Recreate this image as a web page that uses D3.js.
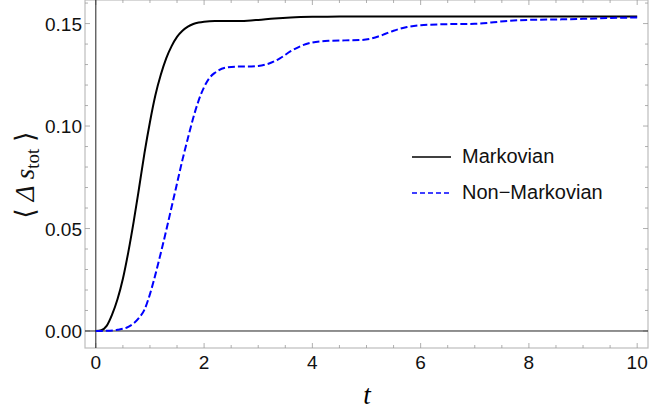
<!DOCTYPE html>
<html>
<head>
<meta charset="utf-8">
<script src="https://cdn.jsdelivr.net/npm/d3@7"></script>
<style>
  body { margin: 0; background: white; }
  text { font-family: "Liberation Sans", Arial, sans-serif; }
</style>
</head>
<body>
<svg id="chart" width="650" height="410"></svg>
<script>
// values
const tMark = [0, 0.1, 0.2, 0.3, 0.4, 0.5, 0.6, 0.7, 0.8, 0.9, 1.0, 1.1, 1.2, 1.3, 1.4, 1.5, 1.6, 1.7, 1.8, 1.9, 2.0, 2.2, 2.4, 2.6, 2.8, 3.0, 3.3, 3.6, 4.0, 4.5, 5, 6, 7, 8, 9, 10];
const markovian = [0, 0.0004, 0.0025, 0.008, 0.0155, 0.0255, 0.0385, 0.0535, 0.07, 0.087, 0.102, 0.115, 0.125, 0.133, 0.139, 0.1435, 0.1465, 0.1485, 0.1498, 0.1505, 0.1509, 0.1512, 0.1512, 0.1512, 0.1514, 0.1518, 0.1525, 0.153, 0.1533, 0.1534, 0.1535, 0.1535, 0.1535, 0.1535, 0.1535, 0.1535];

const tNon = [0, 0.2, 0.4, 0.6, 0.8, 0.9, 1.0, 1.1, 1.2, 1.3, 1.4, 1.5, 1.6, 1.7, 1.8, 1.9, 2.0, 2.1, 2.2, 2.4, 2.6, 2.8, 3.0, 3.2, 3.4, 3.6, 3.8, 4.0, 4.3, 4.6, 4.9, 5.1, 5.3, 5.5, 5.75, 6.0, 6.5, 7.0, 7.3, 7.6, 8.0, 8.5, 9.0, 9.5, 10];
const nonMarkovian = [0, 0.0001, 0.0006, 0.002, 0.0065, 0.0105, 0.018, 0.0275, 0.038, 0.049, 0.0605, 0.072, 0.0835, 0.094, 0.104, 0.1125, 0.119, 0.1235, 0.126, 0.1285, 0.129, 0.129, 0.1293, 0.1305, 0.133, 0.1365, 0.1392, 0.1408, 0.1416, 0.1418, 0.142, 0.1428, 0.1445, 0.1465, 0.1483, 0.1492, 0.1497, 0.1499, 0.1505, 0.1513, 0.1518, 0.152, 0.1523, 0.1527, 0.153];

const xTicks = [0, 2, 4, 6, 8, 10];
const yTicks = [0, 0.05, 0.10, 0.15];
const legendLabels = ["Markovian", "Non\u2212Markovian"];

const svg = d3.select("#chart");
const pLeft = 85, pRight = 648, pTop = 0, pBottom = 348;

const x = d3.scaleLinear().domain([-0.2, 10.2]).range([pLeft, pRight]);
const y = d3.scaleLinear().domain([-0.0083, 0.1615]).range([pBottom, pTop]);

const frameColor = "#bdbdbd";
const tickColor = "#9a9a9a";

// frame
svg.append("rect")
  .attr("x", pLeft).attr("y", pTop)
  .attr("width", pRight - pLeft).attr("height", pBottom - pTop)
  .attr("fill", "none").attr("stroke", frameColor).attr("stroke-width", 1.2);

// minor / major ticks on all four sides
const xMinor = d3.range(0, 10.01, 0.5);
const yMinor = d3.range(0, 0.1601, 0.01);

const tickG = svg.append("g").attr("stroke", tickColor).attr("stroke-width", 0.8);
xMinor.forEach(v => {
  const len = Math.abs(v % 2) < 1e-9 ? 5 : 3;
  tickG.append("line").attr("x1", x(v)).attr("x2", x(v)).attr("y1", pBottom).attr("y2", pBottom - len);
  tickG.append("line").attr("x1", x(v)).attr("x2", x(v)).attr("y1", pTop).attr("y2", pTop + len);
});
yMinor.forEach(v => {
  const isMajor = Math.abs(Math.round(v / 0.05) * 0.05 - v) < 1e-9;
  const len = isMajor ? 5 : 3;
  tickG.append("line").attr("y1", y(v)).attr("y2", y(v)).attr("x1", pLeft).attr("x2", pLeft + len);
  tickG.append("line").attr("y1", y(v)).attr("y2", y(v)).attr("x1", pRight).attr("x2", pRight - len);
});

// zero axes
svg.append("line").attr("x1", pLeft).attr("x2", pRight).attr("y1", y(0)).attr("y2", y(0))
  .attr("stroke", "#222").attr("stroke-width", 1);
svg.append("line").attr("x1", x(0)).attr("x2", x(0)).attr("y1", pTop).attr("y2", pBottom)
  .attr("stroke", "#222").attr("stroke-width", 1);

// tick labels
svg.append("g").selectAll("text").data(xTicks).join("text")
  .attr("x", d => x(d)).attr("y", 369)
  .attr("text-anchor", "middle").attr("font-size", 19).attr("fill", "#111")
  .text(d => d3.format("d")(d));

svg.append("g").selectAll("text").data(yTicks).join("text")
  .attr("x", 82).attr("y", d => y(d) + 7)
  .attr("text-anchor", "end").attr("font-size", 19).attr("fill", "#111")
  .text(d => d3.format(".2f")(d));

// curves
const line = d3.line().x(d => x(d[0])).y(d => y(d[1])).curve(d3.curveMonotoneX);

svg.append("path")
  .datum(tMark.map((t, i) => [t, markovian[i]]))
  .attr("d", line).attr("fill", "none")
  .attr("stroke", "#000").attr("stroke-width", 2);

svg.append("path")
  .datum(tNon.map((t, i) => [t, nonMarkovian[i]]))
  .attr("d", line).attr("fill", "none")
  .attr("stroke", "#0000ff").attr("stroke-width", 2)
  .attr("stroke-dasharray", "7,3");

// legend
const legend = svg.append("g");
legend.append("line").attr("x1", 412).attr("x2", 451).attr("y1", 157).attr("y2", 157)
  .attr("stroke", "#000").attr("stroke-width", 1.5);
legend.append("line").attr("x1", 412).attr("x2", 450).attr("y1", 193).attr("y2", 193)
  .attr("stroke", "#0000ff").attr("stroke-width", 1.5).attr("stroke-dasharray", "5,3");
legend.selectAll("text.lab").data(legendLabels).join("text")
  .attr("class", "lab")
  .attr("x", 462).attr("y", (d, i) => 163 + i * 36)
  .attr("font-size", 20).attr("fill", "#111")
  .text(d => d);

// axis titles
svg.append("text")
  .attr("x", 367).attr("y", 404)
  .attr("text-anchor", "middle")
  .style("font-family", "'Liberation Serif', 'DejaVu Serif', serif")
  .style("font-style", "italic")
  .attr("font-size", 27)
  .text("t");

const yLab = svg.append("text")
  .attr("transform", "translate(34,175) rotate(-90)")
  .attr("text-anchor", "middle")
  .style("font-family", "'Liberation Serif', 'DejaVu Serif', serif")
  .attr("font-size", 27).attr("fill", "#111");
yLab.append("tspan").text("\u27E8 ");
yLab.append("tspan").style("font-style", "italic").text("\u0394 s");
yLab.append("tspan").attr("font-size", 19).attr("dy", 5).text("tot");
yLab.append("tspan").attr("dy", -5).text(" \u27E9");
</script>
</body>
</html>
